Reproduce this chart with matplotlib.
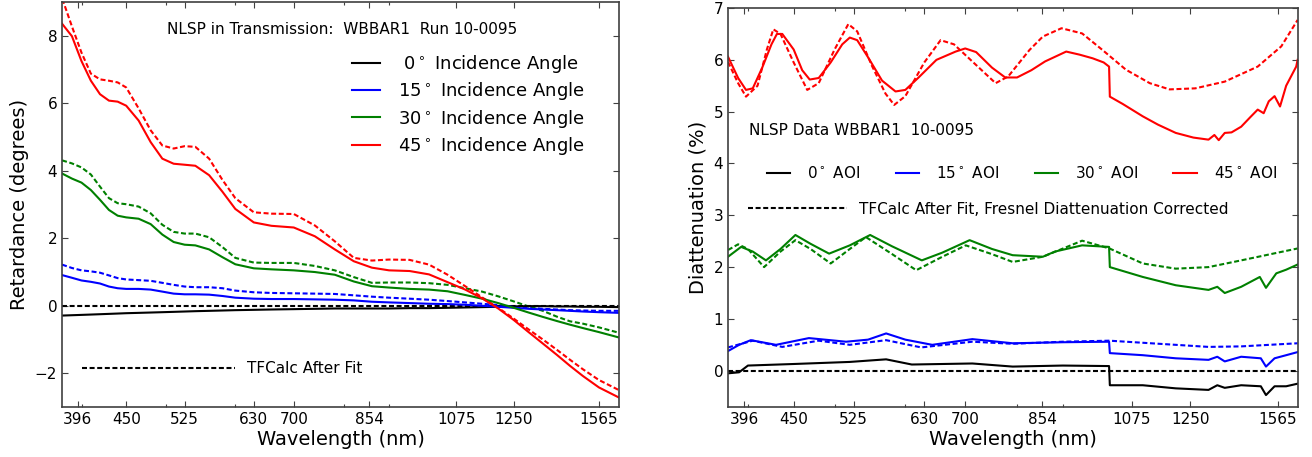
import matplotlib
matplotlib.use('Agg')
import matplotlib.pyplot as plt
from matplotlib.ticker import FixedLocator, FixedFormatter, LogLocator, NullFormatter

plt.rcParams['font.family'] = ['DejaVu Sans']
plt.rcParams['axes.edgecolor'] = '0.25'

tick_wl = [396, 450, 525, 630, 700, 854, 1075, 1250, 1565]

# ---- retardance (left) ----
wl_ret = [380, 390, 400, 410, 420, 430, 440, 450, 465, 480, 495, 510, 525, 540, 560, 580, 600,
          630, 660, 700, 740, 780, 820, 860, 900, 950, 1000, 1050, 1100, 1150, 1200, 1250,
          1300, 1350, 1400, 1450, 1500, 1565, 1650]
ret0 = [-0.29, -0.28, -0.27, -0.26, -0.25, -0.24, -0.23, -0.22, -0.21, -0.20, -0.19, -0.18, -0.17,
        -0.16, -0.15, -0.14, -0.13, -0.12, -0.11, -0.10, -0.09, -0.08, -0.08, -0.08, -0.08, -0.07,
        -0.07, -0.06, -0.05, -0.04, -0.03, -0.02, -0.01, -0.01, -0.02, -0.02, -0.03, -0.03, -0.04]
ret15 = [0.91, 0.83, 0.75, 0.71, 0.66, 0.57, 0.52, 0.50, 0.50, 0.48, 0.42, 0.36, 0.34, 0.34, 0.33,
         0.29, 0.24, 0.21, 0.20, 0.20, 0.19, 0.18, 0.16, 0.12, 0.10, 0.08, 0.06, 0.05, 0.03, 0.0,
         -0.03, -0.06, -0.09, -0.11, -0.13, -0.15, -0.17, -0.19, -0.21]
ret30 = [3.92, 3.77, 3.65, 3.43, 3.14, 2.84, 2.67, 2.62, 2.58, 2.42, 2.11, 1.89, 1.81, 1.79, 1.67,
         1.44, 1.23, 1.11, 1.08, 1.05, 1.0, 0.92, 0.72, 0.58, 0.54, 0.50, 0.48, 0.43, 0.32, 0.21,
         0.08, -0.06, -0.2, -0.33, -0.45, -0.56, -0.66, -0.78, -0.94]
ret45 = [8.36, 7.99, 7.25, 6.67, 6.27, 6.08, 6.05, 5.93, 5.49, 4.85, 4.36, 4.21, 4.18, 4.15, 3.87,
         3.38, 2.87, 2.47, 2.37, 2.32, 2.06, 1.67, 1.32, 1.13, 1.05, 1.03, 0.93, 0.70, 0.48, 0.22,
         -0.08, -0.42, -0.78, -1.12, -1.45, -1.78, -2.08, -2.42, -2.72]
ret0_fit = [0.0, 0.0, 0.0, 0.0, 0.0, 0.0, 0.0, 0.0, 0.0, 0.0, 0.0, 0.0, 0.0, 0.0, 0.0, 0.0, 0.0,
            0.0, 0.0, 0.0, 0.0, 0.0, 0.0, 0.0, 0.0, 0.0, 0.0, 0.0, 0.0, 0.0, 0.0, 0.0, 0.0, 0.0,
            0.0, 0.0, 0.0, 0.0, 0.0]
ret15_fit = [1.22, 1.12, 1.05, 1.02, 0.98, 0.90, 0.82, 0.78, 0.76, 0.74, 0.68, 0.62, 0.57, 0.55,
             0.55, 0.52, 0.45, 0.40, 0.38, 0.37, 0.36, 0.35, 0.31, 0.27, 0.24, 0.21, 0.18, 0.14,
             0.10, 0.06, 0.02, -0.02, -0.06, -0.09, -0.11, -0.13, -0.14, -0.15, -0.15]
ret30_fit = [4.31, 4.22, 4.1, 3.89, 3.53, 3.19, 3.04, 3.01, 2.94, 2.74, 2.4, 2.19, 2.14, 2.14, 2.03,
             1.74, 1.42, 1.28, 1.27, 1.27, 1.18, 1.05, 0.85, 0.68, 0.69, 0.69, 0.67, 0.62, 0.52,
             0.42, 0.28, 0.13, -0.02, -0.15, -0.32, -0.46, -0.53, -0.64, -0.80]
ret45_fit = [9.12, 8.28, 7.5, 6.88, 6.71, 6.67, 6.62, 6.47, 5.85, 5.2, 4.75, 4.66, 4.73, 4.71, 4.36,
             3.73, 3.19, 2.77, 2.73, 2.72, 2.38, 1.91, 1.42, 1.34, 1.37, 1.36, 1.22, 0.92, 0.58,
             0.25, -0.06, -0.38, -0.70, -1.0, -1.3, -1.6, -1.88, -2.2, -2.5]

# ---- diattenuation (right) ----
wl_d0 = [380, 391, 400, 450, 520, 571, 610, 713, 791, 900, 1014, 1016, 1106, 1204, 1310, 1340,
         1366, 1425, 1499, 1519, 1553, 1600, 1648]
d0 = [-0.05, -0.03, 0.10, 0.13, 0.17, 0.22, 0.12, 0.14, 0.08, 0.10, 0.09, -0.28, -0.28, -0.34,
      -0.37, -0.28, -0.33, -0.28, -0.30, -0.47, -0.30, -0.30, -0.25]
wl_d15 = [380, 391, 403, 430, 468, 515, 545, 571, 600, 643, 713, 791, 900, 1014, 1016, 1106, 1204,
          1310, 1340, 1366, 1425, 1499, 1519, 1553, 1600, 1648]
d15 = [0.38, 0.50, 0.59, 0.50, 0.63, 0.56, 0.60, 0.72, 0.60, 0.50, 0.61, 0.53, 0.55, 0.56, 0.34,
       0.30, 0.24, 0.21, 0.27, 0.18, 0.27, 0.24, 0.08, 0.24, 0.30, 0.36]
wl_d30 = [380, 393, 405, 419, 435, 452, 470, 493, 520, 548, 580, 626, 660, 708, 750, 791, 855, 882,
          946, 1014, 1016, 1106, 1204, 1310, 1340, 1366, 1425, 1495, 1519, 1560, 1600, 1648]
d30 = [2.20, 2.39, 2.30, 2.13, 2.35, 2.62, 2.45, 2.26, 2.42, 2.62, 2.40, 2.13, 2.28, 2.52, 2.35,
       2.23, 2.20, 2.30, 2.42, 2.39, 2.00, 1.81, 1.65, 1.56, 1.62, 1.50, 1.62, 1.81, 1.60, 1.88,
       1.95, 2.05]
wl_d45 = [380, 390, 398, 405, 415, 425, 431, 437, 450, 460, 469, 480, 495, 510, 520, 530, 545, 565,
          585, 600, 620, 650, 683, 700, 720, 750, 776, 800, 830, 860, 908, 940, 972, 1000, 1014,
          1016, 1050, 1106, 1150, 1204, 1260, 1310, 1330, 1345, 1366, 1390, 1425, 1460, 1487,
          1510, 1530, 1553, 1575, 1600, 1642, 1648]
d45 = [6.06, 5.65, 5.42, 5.45, 5.85, 6.30, 6.50, 6.50, 6.20, 5.80, 5.62, 5.65, 5.95, 6.30, 6.43,
       6.38, 6.05, 5.60, 5.39, 5.42, 5.65, 6.00, 6.16, 6.22, 6.15, 5.85, 5.66, 5.66, 5.80, 5.97,
       6.16, 6.10, 6.03, 5.95, 5.87, 5.29, 5.15, 4.91, 4.75, 4.59, 4.50, 4.46, 4.55, 4.45, 4.59,
       4.60, 4.71, 4.90, 5.04, 4.97, 5.20, 5.30, 5.10, 5.50, 5.87, 6.00]

wl_fit0 = [380, 1648]
d0_fit = [0.0, 0.0]
wl_fit15 = [380, 405, 437, 480, 520, 571, 625, 713, 791, 900, 1015, 1204, 1310, 1425, 1648]
d15_fit = [0.45, 0.58, 0.46, 0.58, 0.50, 0.59, 0.45, 0.56, 0.52, 0.56, 0.58, 0.50, 0.46, 0.47, 0.53]
wl_fit30 = [380, 390, 400, 417, 435, 452, 470, 495, 520, 542, 580, 617, 660, 701, 750, 791, 855,
            946, 1015, 1106, 1204, 1310, 1425, 1648]
d30_fit = [2.33, 2.44, 2.35, 2.00, 2.30, 2.52, 2.35, 2.07, 2.35, 2.58, 2.25, 1.94, 2.20, 2.42, 2.25,
           2.10, 2.20, 2.51, 2.36, 2.07, 1.97, 2.00, 2.13, 2.36]
wl_fit45 = [380, 390, 398, 410, 420, 427, 435, 450, 466, 480, 500, 518, 530, 550, 570, 583, 600,
            630, 657, 680, 720, 757, 782, 826, 855, 897, 946, 997, 1059, 1126, 1185, 1266, 1366,
            1487, 1580, 1648]
d45_fit = [5.96, 5.55, 5.29, 5.50, 6.20, 6.59, 6.50, 5.95, 5.42, 5.55, 6.20, 6.69, 6.55, 5.90, 5.35,
           5.13, 5.30, 5.95, 6.38, 6.30, 5.90, 5.55, 5.68, 6.19, 6.45, 6.61, 6.51, 6.19, 5.81, 5.55,
           5.43, 5.45, 5.58, 5.87, 6.26, 6.77]

lw = 1.5
dash = (0, (2.4, 1.25))

fig = plt.figure(figsize=(13.12, 4.57), dpi=100)
ax1 = fig.add_axes([0.0473, 0.1094, 0.4245, 0.886])
ax2 = fig.add_axes([0.5549, 0.1094, 0.4345, 0.873])

# left panel
fit_line, = ax1.plot(wl_ret, ret0_fit, color='k', lw=lw, ls=dash)
ax1.plot(wl_ret, ret15_fit, color='b', lw=lw, ls=dash)
ax1.plot(wl_ret, ret30_fit, color='g', lw=lw, ls=dash)
ax1.plot(wl_ret, ret45_fit, color='r', lw=lw, ls=dash)
h0, = ax1.plot(wl_ret, ret0, color='k', lw=lw, label=r' 0$^\circ$ Incidence Angle')
h15, = ax1.plot(wl_ret, ret15, color='b', lw=lw, label=r'15$^\circ$ Incidence Angle')
h30, = ax1.plot(wl_ret, ret30, color='g', lw=lw, label=r'30$^\circ$ Incidence Angle')
h45, = ax1.plot(wl_ret, ret45, color='r', lw=lw, label=r'45$^\circ$ Incidence Angle')
ax1.set_ylim(-3, 9)
ax1.set_yticks([-2, 0, 2, 4, 6, 8])
ax1.set_ylabel('Retardance (degrees)', fontsize=14)
ax1.text(0.1885, 0.933, 'NLSP in Transmission:  WBBAR1  Run 10-0095', transform=ax1.transAxes,
         fontsize=11, va='center', ha='left')
leg1 = ax1.legend(handles=[h0, h15, h30, h45], loc='center left', bbox_to_anchor=(0.521, 0.746),
                  frameon=False, fontsize=13, borderpad=0, borderaxespad=0, handlelength=1.55,
                  handletextpad=1.0, labelspacing=0.3)
ax1.add_artist(leg1)
ax1.legend([fit_line], ['TFCalc After Fit'], loc='center left', bbox_to_anchor=(0.036, 0.094),
           frameon=False, fontsize=11, borderpad=0, borderaxespad=0, handlelength=10.0,
           handletextpad=0.8)

# right panel
fit2, = ax2.plot(wl_fit0, d0_fit, color='k', lw=lw, ls=dash)
ax2.plot(wl_fit15, d15_fit, color='b', lw=lw, ls=dash)
ax2.plot(wl_fit30, d30_fit, color='g', lw=lw, ls=dash)
ax2.plot(wl_fit45, d45_fit, color='r', lw=lw, ls=dash)
g0, = ax2.plot(wl_d0, d0, color='k', lw=lw, label=r'0$^\circ$ AOI')
g15, = ax2.plot(wl_d15, d15, color='b', lw=lw, label=r'15$^\circ$ AOI')
g30, = ax2.plot(wl_d30, d30, color='g', lw=lw, label=r'30$^\circ$ AOI')
g45, = ax2.plot(wl_d45, d45, color='r', lw=lw, label=r'45$^\circ$ AOI')
ax2.set_ylim(-0.7, 7)
ax2.set_yticks([0, 1, 2, 3, 4, 5, 6, 7])
ax2.set_ylabel('Diattenuation (%)', fontsize=14)
ax2.text(0.037, 0.692, 'NLSP Data WBBAR1  10-0095', transform=ax2.transAxes,
         fontsize=11, va='center', ha='left')
leg2 = ax2.legend(handles=[g0, g15, g30, g45], loc='center left', bbox_to_anchor=(0.068, 0.586),
                  ncol=4, frameon=False, fontsize=11, borderpad=0, borderaxespad=0,
                  handlelength=1.55, handletextpad=1.1, columnspacing=2.3)
ax2.add_artist(leg2)
ax2.legend([fit2], ['TFCalc After Fit, Fresnel Diattenuation Corrected'], loc='center left',
           bbox_to_anchor=(0.035, 0.496), frameon=False, fontsize=11, borderpad=0,
           borderaxespad=0, handlelength=6.5, handletextpad=0.78)

for ax in (ax1, ax2):
    ax.set_xscale('log')
    ax.set_xlim(380, 1650)
    ax.xaxis.set_major_locator(FixedLocator(tick_wl))
    ax.xaxis.set_major_formatter(FixedFormatter([str(t) for t in tick_wl]))
    ax.xaxis.set_minor_locator(LogLocator(base=10, subs=range(2, 10)))
    ax.xaxis.set_minor_formatter(NullFormatter())
    ax.tick_params(which='both', direction='in', top=True, right=True, labelsize=11, width=0.8,
                   color='0.25')
    ax.tick_params(which='major', length=4)
    ax.tick_params(which='minor', length=2)
    ax.set_xlabel('Wavelength (nm)', fontsize=14, labelpad=2)
    for s in ax.spines.values():
        s.set_linewidth(1.2)

fig.savefig('out.png', dpi=100)
